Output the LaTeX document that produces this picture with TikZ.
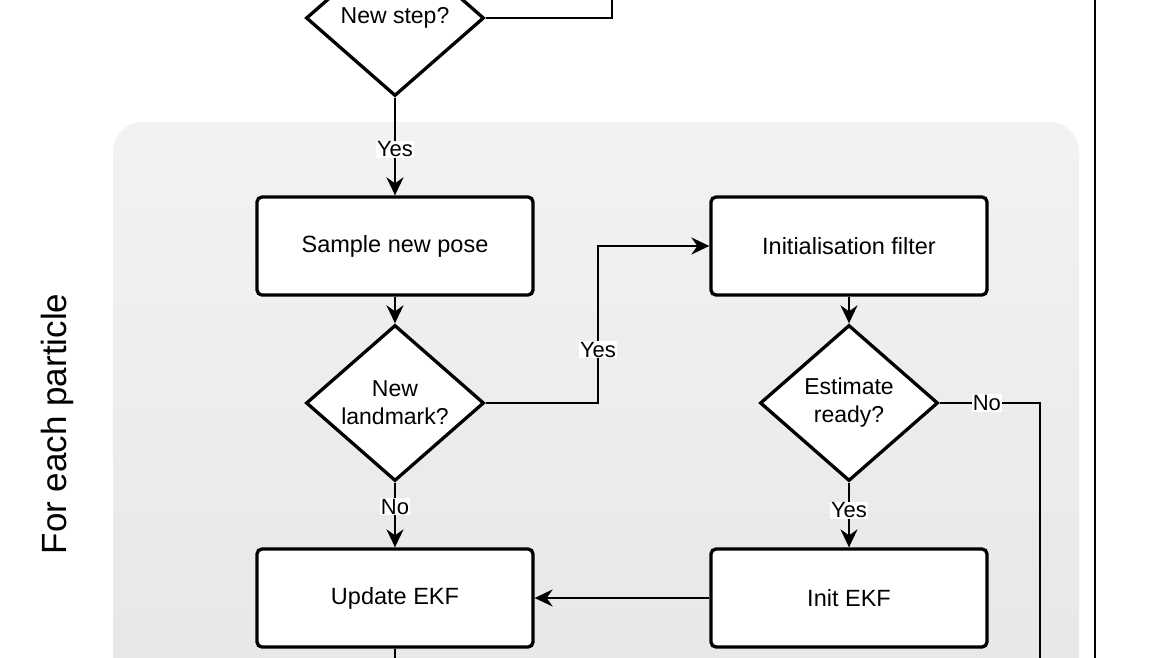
\documentclass[tikz,border=0pt]{standalone}
\usepackage{fontspec}
\setmainfont{Liberation Sans}
\usetikzlibrary{shapes.geometric,arrows.meta}
\tikzset{
  procbox/.style={draw=black, fill=white, line width=3.3pt, rounded corners=5pt,
    minimum width=276pt, minimum height=98pt, font=\fontsize{23.5}{28}\selectfont},
  decision/.style={draw=black, fill=white, line width=3.3pt, diamond, inner sep=0pt,
    aspect=1.14, minimum width=178pt, minimum height=156pt, align=center,
    font=\fontsize{23}{28}\selectfont},
  conn/.style={line width=2.2pt, draw=black},
  arr/.style={conn, -{Stealth[length=18pt,width=17pt,inset=6pt]}},
  lbl/.style={fill=white, inner sep=1pt, font=\fontsize{22}{26}\selectfont},
}
\begin{document}
\begin{tikzpicture}[x=1pt, y=-1pt]
\clip (0,0) rectangle (1170,658);
\fill[white] (0,0) rectangle (1170,658);
% container
\shade[top color=gray!10, bottom color=gray!19, rounded corners=30pt]
  (113,122) rectangle (1079,700);
\node[rotate=90, font=\fontsize{35}{40}\selectfont] (title) at (57,424) {For each particle};
% nodes
\node[decision] (step) at (395,18) {New step?};
\node[procbox] (sample) at (395,246) {Sample new pose};
\node[decision] (newlm) at (395,403) {New\\landmark?};
\node[procbox] (update) at (395,598) {Update EKF};
\node[procbox] (initf) at (849,246) {Initialisation filter};
\node[decision] (ready) at (849,403) {Estimate\\ready?};
\node[procbox] (initekf) at (849,598) {Init EKF};
% free ends
\coordinate (topend) at (612,-5);
\coordinate (rdown) at (1040,670);
\coordinate (updown) at (395,670);
\coordinate (rtop) at (1095,-5);
\coordinate (rbot) at (1095,670);
% connectors
\draw[conn] (step.east) -- (612,18) -- (topend);
\draw[arr] (step.south) -- node[lbl, pos=0.53] {Yes} (sample.north);
\draw[arr] (sample.south) -- (newlm.north);
\draw[arr] (newlm.east) -- (598,403) -- node[lbl, pos=0.34] {Yes} (598,246) -- (initf.west);
\draw[arr] (newlm.south) -- node[lbl, pos=0.37] {No} (update.north);
\draw[arr] (initf.south) -- (ready.north);
\draw[arr] (ready.south) -- node[lbl, pos=0.43] {Yes} (initekf.north);
\draw[arr] (initekf.west) -- (update.east);
\draw[conn] (ready.east) -- node[lbl, pos=0.47] {No} (1040,403) -- (rdown);
\draw[conn] (update.south) -- (updown);
\draw[conn] (rtop) -- (rbot);
\end{tikzpicture}
\end{document}
